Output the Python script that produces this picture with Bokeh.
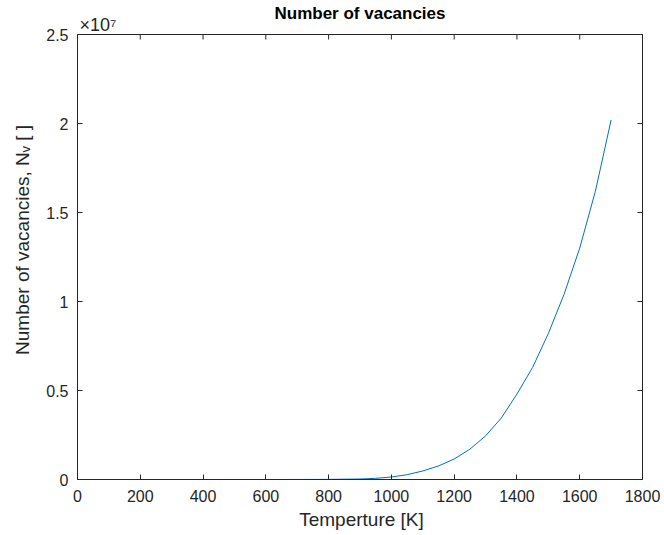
import math
from bokeh.plotting import figure
from bokeh.models import LinearAxis, FixedTicker, Label, Range1d
from bokeh.embed import file_html
from bokeh.resources import INLINE

# Data
temperature = [100, 200, 300, 400, 500, 600, 700, 800, 900, 950, 1000, 1050,
               1100, 1150, 1200, 1250, 1300, 1350, 1400, 1450, 1500, 1550,
               1600, 1650, 1700]
vacancies = [0, 0, 0, 0, 2, 60, 1.0e3, 6.5e3, 2.8e4, 6.5e4, 1.4e5, 2.7e5,
             4.8e5, 7.6e5, 1.15e6, 1.7e6, 2.45e6, 3.45e6, 4.8e6, 6.3e6,
             8.2e6, 1.04e7, 1.3e7, 1.62e7, 2.02e7]

x_ticks = [0, 200, 400, 600, 800, 1000, 1200, 1400, 1600, 1800]
y_ticks = [0, 0.5e7, 1.0e7, 1.5e7, 2.0e7, 2.5e7]
y_tick_labels = ["0", "0.5", "1", "1.5", "2", "2.5"]

title_text = "Number of vacancies"
x_label = "Temperture [K]"
y_label = "Number of vacancies, N\u1d65 [ ]"
exponent_text = "\u00d710\u2077"

FONT = "Liberation Sans"
AXIS_COLOR = "#262626"

# axes box geometry (pixels)
BOX_W, BOX_H = 565, 445
TOP_SPACE, RIGHT_SPACE = 34, 3
x_min, x_max = x_ticks[0], x_ticks[-1]
y_min, y_max = y_ticks[0], y_ticks[-1]
y_per_px = (y_max - y_min) / BOX_H
x_end = x_max + (x_max - x_min) * RIGHT_SPACE / BOX_W
y_end = y_max + y_per_px * TOP_SPACE

p = figure(frame_width=BOX_W + RIGHT_SPACE, frame_height=BOX_H + TOP_SPACE,
           x_range=Range1d(x_min, x_end), y_range=Range1d(y_min, y_end),
           output_backend="svg", toolbar_location=None,
           min_border_left=77, min_border_right=15,
           min_border_top=0, min_border_bottom=55,
           x_axis_location=None, y_axis_location=None)
p.background_fill_color = "white"
p.border_fill_color = "white"
p.outline_line_color = None
p.xgrid.visible = False
p.ygrid.visible = False


def style_axis(ax):
    ax.axis_line_color = AXIS_COLOR
    ax.axis_line_width = 1
    ax.major_tick_line_color = AXIS_COLOR
    ax.major_tick_in = 5
    ax.major_tick_out = 0
    ax.minor_tick_line_color = None
    ax.major_label_text_font = FONT
    ax.major_label_text_font_size = "16px"
    ax.major_label_text_color = AXIS_COLOR
    ax.axis_label_text_font = FONT
    ax.axis_label_text_font_size = "19px"
    ax.axis_label_text_font_style = "normal"
    ax.axis_label_text_color = AXIS_COLOR


overrides = {t: l for t, l in zip(y_ticks, y_tick_labels)}

bottom = LinearAxis(ticker=FixedTicker(ticks=x_ticks), axis_label=x_label,
                    bounds=(x_min, x_max))
style_axis(bottom)
bottom.major_label_standoff = 10
bottom.axis_label_standoff = 4
p.add_layout(bottom, "below")

left = LinearAxis(ticker=FixedTicker(ticks=y_ticks), axis_label=y_label,
                  major_label_overrides=overrides, bounds=(y_min, y_max))
style_axis(left)
left.major_label_standoff = 9
left.axis_label_standoff = 10
p.add_layout(left, "left")

# top and right edges of the box, with inward ticks
p.segment(x0=[x_min], y0=[y_max], x1=[x_max], y1=[y_max],
          line_color=AXIS_COLOR, line_width=1)
p.segment(x0=[x_max], y0=[y_min], x1=[x_max], y1=[y_max],
          line_color=AXIS_COLOR, line_width=1)
p.ray(x=x_ticks, y=[y_max] * len(x_ticks), length=5, length_units="screen",
      angle=-math.pi / 2, line_color=AXIS_COLOR, line_width=1)
p.ray(x=[x_max] * len(y_ticks), y=y_ticks, length=5, length_units="screen",
      angle=math.pi, line_color=AXIS_COLOR, line_width=1)

p.line(temperature, vacancies, line_color="#0072BD", line_width=1)

# title and the x10^7 multiplier above the box
p.add_layout(Label(x=(x_min + x_max) / 2, y=y_max + y_per_px * 12,
                   text=title_text, text_align="center",
                   text_baseline="bottom", text_font=FONT,
                   text_font_size="17px", text_font_style="bold",
                   text_color="black"))
p.add_layout(Label(x=x_min, y=y_max, text=exponent_text, text_align="left",
                   text_baseline="bottom", x_offset=2,
                   text_font=FONT, text_font_size="18px",
                   text_color=AXIS_COLOR))

open("out.html", "w").write(file_html(p, INLINE))
